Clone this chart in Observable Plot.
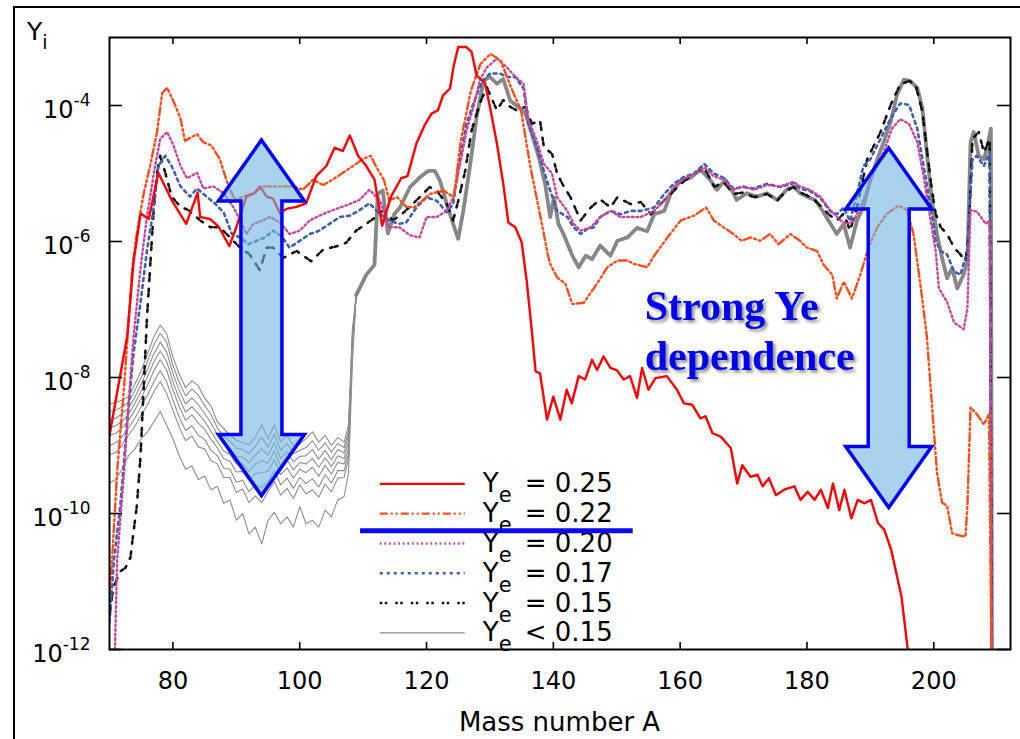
<!DOCTYPE html>
<html><head><meta charset="utf-8">
<script src="https://cdn.jsdelivr.net/npm/d3@7"></script>
<script src="https://cdn.jsdelivr.net/npm/@observablehq/plot@0.6"></script>
<style>
body{margin:0;background:#fff;}
#chart{position:relative;width:1020px;height:739px;overflow:hidden;background:#fff}
</style>
</head><body><div id="chart"></div>
<script>
// ---------- tick values ----------
const xTicks = [80, 100, 120, 140, 160, 180, 200];
const yTicks = [1e-12, 1e-10, 1e-8, 1e-6, 1e-4];

// ---------- series: [mass number A, log10 Y] ----------
const ye025 = [[70,-8.85],[72.8,-7.39],[73.8,-6.29],[74.9,-5.59],[76.2,-5.67],[77.7,-4.99],[79.8,-5.39],[82.1,-5.74],[83.9,-5.28],[84.3,-5.64],[85.9,-5.67],[87.2,-5.78],[88.9,-6.07],[90,-5.79],[91.6,-5.34],[92.9,-5.29],[93.7,-5.19],[94.8,-5.34],[95.8,-5.37],[96.9,-5.59],[97.9,-5.52],[99.5,-5.49],[101,-5.44],[102.6,-5.04],[104.2,-4.89],[105.5,-4.62],[106.8,-4.67],[107.9,-4.44],[109.2,-4.74],[110.5,-4.89],[111.8,-5.09],[113,-5.77],[114.4,-5.34],[116,-5.07],[117,-5.04],[118.4,-4.56],[119.7,-4.29],[120.8,-4.12],[121.8,-4.07],[122.6,-3.85],[123.7,-3.75],[124.3,-3.41],[125,-3.14],[126.3,-3.14],[127.1,-3.21],[127.9,-3.56],[129.2,-3.66],[130,-4.02],[131.1,-4.56],[132.1,-5.15],[132.9,-5.72],[134,-5.79],[135,-6.01],[135.8,-6.58],[136.6,-7.31],[137.2,-7.91],[137.9,-7.94],[139,-8.62],[140,-8.28],[141.1,-8.62],[142.1,-8.18],[142.9,-8.38],[144,-7.98],[145,-8.03],[146.1,-7.74],[146.9,-7.89],[147.9,-7.69],[149,-7.86],[150,-7.89],[151.1,-8.03],[152.1,-7.98],[153.2,-8.3],[154,-7.86],[155,-8.18],[156.1,-8.01],[157.9,-7.98],[159.5,-8.18],[160.6,-8.38],[161.9,-8.4],[163.2,-8.6],[164,-8.57],[165.1,-8.82],[166.4,-8.87],[168,-9.04],[169,-9.56],[169.8,-9.29],[171.1,-9.46],[172.2,-9.43],[173,-9.6],[174,-9.48],[175.1,-9.73],[176.4,-9.65],[178,-9.6],[179,-9.8],[180.1,-9.68],[181.2,-9.8],[182.2,-9.65],[183.3,-9.92],[184.1,-9.56],[185.1,-9.95],[185.9,-9.65],[187,-10.07],[188,-9.8],[189.1,-9.85],[190.1,-9.8],[191.2,-10.14],[192.2,-10.24],[193.3,-10.54],[194.9,-11.22],[195.9,-12],[196.3,-12.5]];

const ye022 = [[70,-11.2],[70.4,-10.69],[71.2,-9.39],[72.3,-8.14],[73.6,-6.39],[74.3,-5.89],[75.4,-5.29],[76.4,-4.89],[77.5,-4.39],[78.3,-3.82],[79.1,-3.74],[80.1,-3.94],[81.2,-4.19],[81.9,-4.52],[83.8,-4.42],[84.8,-4.54],[86.1,-4.59],[87.4,-4.79],[88.7,-5.17],[89.8,-5.39],[91.1,-5.34],[92.7,-5.29],[94.2,-5.19],[95.8,-5.19],[97.4,-5.19],[99,-5.19],[100.5,-5.24],[102.1,-5.09],[103.7,-5.17],[105.2,-5.09],[106.8,-4.99],[108.4,-4.89],[109.9,-4.79],[111.2,-4.74],[112,-4.89],[113.3,-5.1],[114.1,-5.39],[115.4,-5.35],[116.8,-5.49],[118,-5.5],[120.6,-5.3],[122.7,-5.25],[124.3,-5.35],[125.4,-4.52],[127,-3.78],[128.5,-3.39],[130.1,-3.24],[131.7,-3.34],[133.3,-3.73],[134.9,-4.07],[136.4,-4.91],[138,-5.65],[139.1,-6.18],[139.5,-6.33],[140.6,-6.53],[141.9,-6.62],[143,-6.92],[144.8,-6.9],[146.9,-6.62],[148.5,-6.38],[150.1,-6.28],[151.7,-6.28],[152.7,-6.33],[154.8,-6.38],[155.9,-6.21],[158,-5.94],[160.1,-5.69],[162.2,-5.62],[164.1,-5.5],[165.3,-5.69],[166.8,-5.79],[168.4,-5.89],[169.7,-5.99],[171.1,-5.94],[172.6,-5.99],[174.2,-5.89],[175.5,-6.04],[177.4,-5.89],[178.9,-5.99],[180,-6.09],[181.6,-6.14],[182.6,-6.34],[184,-6.49],[184.7,-6.84],[185.8,-6.59],[187.1,-6.84],[188.4,-6.49],[189.7,-6.09],[191.1,-5.79],[192.6,-5.59],[194.5,-5.47],[195.8,-5.54],[196.8,-5.89],[197.9,-6.64],[198.9,-7.39],[199.7,-8.39],[200.5,-9.39],[201.3,-9.84],[202.1,-9.89],[202.9,-10.29],[203.9,-10.32],[205,-10.34],[205.3,-9.89],[205.8,-8.44],[206.8,-8.54],[207.9,-8.69],[208.7,-8.54],[209.2,-13]];

const ye020 = [[70.8,-12.2],[71.2,-10.69],[72.3,-9.39],[73,-8.39],[73.8,-7.39],[74.9,-6.39],[75.9,-5.64],[77,-4.99],[78,-4.49],[79.1,-4.39],[80.1,-4.59],[81.2,-4.89],[82.2,-5.07],[83.8,-4.99],[84.8,-5.22],[86.4,-5.19],[88,-5.29],[89.5,-5.49],[90.6,-5.69],[91.6,-5.89],[92.7,-5.74],[94.2,-5.69],[95.3,-5.64],[96.9,-5.72],[98.4,-5.89],[100,-5.84],[101.6,-5.69],[103.1,-5.62],[105.2,-5.54],[107.3,-5.47],[109.4,-5.39],[111,-5.24],[112.6,-5.39],[114.1,-5.79],[115.7,-5.79],[117.4,-5.91],[118.9,-5.94],[120,-5.64],[121.6,-5.64],[123.2,-5.55],[124.2,-5.35],[125.3,-4.86],[126.3,-4.37],[127.4,-4.02],[128.4,-3.63],[129.5,-3.44],[131.1,-3.31],[132.7,-3.44],[134,-3.58],[135.3,-3.68],[136.1,-4.22],[137.4,-4.52],[138.5,-4.86],[139.8,-5.0],[140.6,-5.35],[142.2,-5.55],[143.2,-5.74],[144.3,-5.84],[145.9,-5.79],[147.4,-5.64],[149,-5.55],[150.6,-5.64],[152.2,-5.64],[153.8,-5.64],[155.9,-5.55],[157.5,-5.4],[159,-5.2],[160.6,-5.08],[162.2,-5.0],[163.8,-4.91],[165.3,-5.04],[166.8,-5.09],[168.4,-5.24],[170,-5.19],[171.6,-5.24],[173.7,-5.17],[175.8,-5.19],[177.9,-5.12],[178.9,-5.19],[180.5,-5.24],[182.1,-5.34],[183.7,-5.54],[185.3,-5.69],[186.3,-5.74],[187.4,-5.69],[188.9,-5.39],[190.5,-4.99],[192.1,-4.69],[193.4,-4.34],[194.7,-4.2],[196.1,-4.27],[197.4,-4.54],[198.4,-5.04],[199.5,-5.69],[200.3,-6.14],[200.8,-6.69],[202.1,-6.89],[203.2,-7.19],[204.7,-7.29],[205.3,-6.99],[205.8,-5.54],[206.8,-5.56],[208.2,-5.74],[208.8,-5.69],[209.2,-13]];

const ye017 = [[70,-11.6],[70.7,-10.69],[71.7,-9.89],[72.8,-8.64],[73.8,-7.64],[74.9,-6.89],[75.9,-6.14],[77,-5.49],[77.7,-4.89],[78.8,-4.74],[79.8,-4.89],[81.2,-5.19],[82.7,-5.34],[83.8,-5.22],[85.3,-5.34],[86.6,-5.44],[88,-5.57],[89.3,-5.89],[90.6,-5.94],[91.9,-6.04],[93.2,-5.99],[94.5,-5.94],[95.8,-5.84],[97.1,-5.92],[98.4,-6.09],[100,-5.99],[101.6,-5.89],[103.1,-5.84],[104.7,-5.74],[106.3,-5.64],[107.9,-5.62],[109.4,-5.54],[111,-5.44],[112.6,-5.59],[114.1,-5.69],[115.7,-5.74],[116.8,-5.72],[118.4,-5.5],[120,-5.35],[121.6,-5.4],[123.2,-5.57],[124.2,-5.45],[125.3,-4.76],[126.3,-4.27],[127.4,-3.97],[128.7,-3.66],[130,-3.53],[131.6,-3.53],[132.7,-3.58],[134,-3.58],[135.3,-3.75],[136.1,-4.27],[137.4,-4.61],[138.5,-4.96],[139.5,-5.25],[140.6,-5.55],[142.2,-5.64],[143.2,-5.79],[144.3,-5.89],[145.3,-5.82],[146.4,-5.79],[147.4,-5.64],[149,-5.55],[150.6,-5.6],[152.2,-5.55],[153.8,-5.55],[155.9,-5.5],[157.5,-5.3],[159,-5.15],[160.6,-5.05],[162.2,-5.0],[163.8,-4.86],[165.3,-5.0],[166.8,-5.06],[168.4,-5.22],[170,-5.2],[171.6,-5.22],[173.7,-5.15],[175.8,-5.2],[177.9,-5.14],[178.9,-5.22],[180.5,-5.26],[182.1,-5.36],[183.7,-5.56],[184.7,-5.6],[185.8,-5.5],[186.8,-5.7],[187.9,-5.3],[188.9,-4.89],[190,-4.79],[191.6,-4.49],[193.2,-4.19],[194.7,-3.97],[196.1,-3.99],[197.4,-4.34],[198.4,-4.89],[199.5,-5.49],[200.3,-5.99],[201.1,-6.14],[202.1,-6.19],[203.2,-6.44],[204.2,-6.49],[205.3,-6.14],[206.1,-4.79],[206.8,-4.74],[207.9,-4.89],[208.8,-4.69],[209.2,-13]];

const ye015 = [[70,-11.5],[70.6,-11.09],[71.7,-10.85],[72.5,-10.8],[73.3,-10.65],[73.8,-10.26],[74.3,-9.9],[74.9,-9.14],[75.4,-8.14],[75.9,-7.14],[76.4,-6.39],[77,-5.49],[77.5,-4.99],[78,-4.74],[78.8,-4.99],[79.8,-5.34],[81.2,-5.49],[82.5,-5.54],[84.3,-5.69],[85.9,-5.79],[87.4,-5.79],[89,-5.94],[90.6,-6.09],[92.1,-6.19],[93.7,-6.42],[94.8,-6.09],[95.8,-6.09],[97.4,-6.24],[99.5,-6.14],[101.8,-6.29],[103.7,-6.12],[105.8,-6.07],[107.3,-6.02],[108.9,-5.84],[110.5,-5.74],[112,-5.64],[113.1,-5.54],[114.7,-5.69],[116.2,-5.59],[117.8,-5.45],[118.9,-5.35],[120.5,-5.2],[121.6,-5.25],[123.2,-5.45],[124.2,-5.69],[125,-5.4],[126.1,-4.96],[127.1,-4.37],[128.4,-3.97],[129.5,-3.73],[131.1,-4.07],[132.1,-3.92],[133.2,-4.02],[134.2,-4.07],[135.6,-4.02],[136.6,-4.27],[137.9,-4.22],[138.5,-4.61],[139.8,-4.71],[140.6,-5.0],[141.4,-5.15],[142.7,-5.35],[144.3,-5.69],[145.9,-5.5],[147.4,-5.38],[149,-5.5],[150.1,-5.35],[152.2,-5.45],[153.8,-5.42],[155.4,-5.6],[156.9,-5.45],[158.5,-5.3],[160.1,-5.15],[162.2,-5.0],[163.8,-4.91],[165.4,-5.2],[166.8,-5.12],[168.4,-5.3],[170,-5.28],[171.6,-5.35],[173.7,-5.3],[175.3,-5.4],[176.8,-5.25],[177.9,-5.2],[178.9,-5.28],[180,-5.32],[181.3,-5.4],[182.4,-5.5],[183.4,-5.6],[184.7,-5.69],[185.8,-5.59],[186.8,-5.84],[187.9,-5.49],[189.5,-4.79],[191.6,-4.39],[193.2,-3.99],[194.7,-3.69],[196.1,-3.64],[197.1,-3.69],[198.2,-4.09],[198.9,-4.64],[199.7,-5.24],[200.3,-5.59],[201.1,-5.79],[202.1,-5.89],[203.2,-6.09],[204.2,-6.19],[205,-6.29],[205.5,-5.89],[206.1,-4.49],[207.1,-4.39],[207.9,-4.69],[208.8,-4.49],[209.2,-13]];

// Ye < 0.15: several runs that fan out below A ~ 108 and merge above it
const greyLowA = [70,71,72,73,74,75,76,77,78,79,80,81,82,83,84,85,86,87,88,89,90,91,92,93,94,95,96,97,98,99,100,101,102,103,104,105,106,107,107.7,108.3,108.9];
const greyLow1 = [-8.39,-8.37,-8.33,-8.28,-8.10,-7.90,-7.65,-7.40,-7.23,-7.35,-7.70,-7.95,-8.15,-8.05,-8.12,-8.30,-8.42,-8.65,-8.75,-8.85,-8.92,-8.96,-8.99,-8.88,-8.70,-8.90,-8.70,-8.95,-8.85,-9.00,-8.98,-8.90,-8.80,-8.95,-8.85,-9.00,-8.88,-8.95,-8.70,-7.30,-6.79];
const greyLow2 = [-8.50,-8.48,-8.43,-8.36,-8.19,-8.00,-7.76,-7.52,-7.35,-7.48,-7.82,-8.07,-8.27,-8.17,-8.26,-8.41,-8.54,-8.74,-8.86,-8.94,-9.04,-9.06,-9.12,-9.01,-8.88,-9.02,-8.83,-9.07,-8.97,-9.12,-9.07,-9.03,-8.93,-9.07,-8.96,-9.10,-8.97,-9.03,-8.78,-7.38,-6.79];
const greyLow3 = [-8.62,-8.60,-8.53,-8.45,-8.29,-8.10,-7.88,-7.65,-7.48,-7.62,-7.94,-8.19,-8.39,-8.30,-8.40,-8.53,-8.67,-8.84,-8.97,-9.04,-9.16,-9.17,-9.25,-9.14,-9.05,-9.14,-8.96,-9.19,-9.09,-9.24,-9.16,-9.15,-9.06,-9.20,-9.07,-9.21,-9.06,-9.11,-8.85,-7.45,-6.79];
const greyLow4 = [-8.74,-8.71,-8.64,-8.54,-8.38,-8.20,-7.99,-7.77,-7.61,-7.76,-8.06,-8.31,-8.51,-8.43,-8.53,-8.64,-8.79,-8.94,-9.08,-9.13,-9.27,-9.27,-9.38,-9.27,-9.22,-9.26,-9.08,-9.31,-9.21,-9.36,-9.25,-9.27,-9.19,-9.32,-9.18,-9.31,-9.15,-9.19,-8.95,-7.50,-6.79];
const greyLow5 = [-8.85,-8.82,-8.74,-8.63,-8.48,-8.30,-8.11,-7.90,-7.74,-7.89,-8.18,-8.43,-8.63,-8.55,-8.67,-8.76,-8.91,-9.03,-9.19,-9.23,-9.39,-9.38,-9.51,-9.41,-9.40,-9.38,-9.21,-9.43,-9.33,-9.48,-9.35,-9.40,-9.32,-9.45,-9.29,-9.42,-9.25,-9.27,-9.05,-7.55,-6.79];
const greyLow6 = [-9.00,-8.96,-8.87,-8.74,-8.60,-8.43,-8.26,-8.06,-7.90,-8.06,-8.33,-8.58,-8.78,-8.71,-8.85,-8.91,-9.07,-9.15,-9.33,-9.35,-9.54,-9.51,-9.68,-9.58,-9.62,-9.53,-9.37,-9.58,-9.48,-9.63,-9.47,-9.56,-9.49,-9.61,-9.43,-9.55,-9.37,-9.37,-9.12,-7.60,-6.79];
const greyLow7 = [-9.14,-9.10,-8.99,-8.85,-8.72,-8.55,-8.40,-8.21,-8.06,-8.23,-8.48,-8.73,-8.93,-8.86,-9.02,-9.05,-9.22,-9.27,-9.47,-9.47,-9.69,-9.64,-9.84,-9.74,-9.84,-9.68,-9.53,-9.73,-9.63,-9.78,-9.58,-9.71,-9.65,-9.76,-9.57,-9.68,-9.48,-9.47,-9.20,-7.65,-6.79];
const greyLow8 = [-9.55,-9.50,-9.35,-9.15,-9.05,-8.90,-8.80,-8.65,-8.50,-8.70,-8.90,-9.15,-9.35,-9.30,-9.50,-9.45,-9.65,-9.60,-9.85,-9.80,-10.10,-10.00,-10.30,-10.20,-10.45,-10.10,-9.98,-10.15,-10.05,-10.20,-9.90,-10.15,-10.10,-10.20,-9.95,-10.05,-9.80,-9.75,-9.40,-7.80,-6.79];
const greyHigh = [[108.9,-6.79],[110.5,-6.49],[111.8,-6.34],[112.3,-5.3],[113.1,-5.25],[113.9,-5.88],[114.9,-5.6],[115.8,-5.5],[117.4,-5.2],[118.9,-5.06],[120.3,-4.96],[121.3,-4.96],[122.1,-5.1],[123.2,-5.45],[124.2,-5.74],[125,-5.96],[125.8,-5.55],[126.9,-4.86],[127.9,-4.17],[129,-3.63],[130,-3.58],[131.1,-3.68],[132.1,-3.61],[133.2,-3.93],[134.5,-4.02],[135.6,-4.12],[136.6,-4.42],[137.7,-4.76],[138.7,-5.15],[139.5,-5.64],[140.1,-5.35],[140.8,-5.74],[141.6,-5.89],[143,-6.21],[144,-6.38],[145.1,-6.21],[146.1,-6.26],[147.4,-6.06],[149,-6.21],[150.1,-5.99],[151.7,-5.94],[153.2,-5.8],[154.8,-5.85],[155.9,-5.6],[157.5,-5.55],[158.5,-5.3],[160.1,-5.1],[161.7,-5.06],[163.2,-4.94],[164.7,-5.09],[165.8,-5.24],[167.1,-5.09],[168.4,-5.29],[168.9,-5.39],[170.5,-5.29],[172.1,-5.34],[173.7,-5.29],[175.3,-5.39],[176.8,-5.24],[177.9,-5.19],[178.9,-5.29],[180,-5.34],[181.3,-5.39],[182.4,-5.54],[183.4,-5.69],[184.7,-5.89],[185.8,-5.74],[186.8,-6.09],[187.9,-5.69],[188.9,-5.49],[190,-5.09],[191.1,-4.79],[192.1,-4.54],[193.2,-4.24],[194.2,-3.84],[195.3,-3.62],[196.3,-3.64],[197.4,-3.74],[198.2,-4.04],[198.9,-4.69],[199.7,-5.39],[200.5,-5.89],[201.3,-6.24],[202.1,-6.54],[202.9,-6.39],[203.7,-6.69],[204.7,-6.49],[205.3,-6.29],[205.8,-4.54],[206.3,-4.39],[207.1,-4.74],[207.9,-4.79],[208.5,-4.59],[209,-4.34],[209.2,-13]];

// ---------- legend ----------
const legendLabels = ["= 0.25", "= 0.22", "= 0.20", "= 0.17", "= 0.15", "< 0.15"];

// ---------- build table ----------
const pts = (arr, s) => arr.map(([a, e]) => ({A: a, Y: Math.pow(10, e), s}));
const greyRuns = [greyLow1, greyLow2, greyLow3, greyLow4, greyLow5, greyLow6, greyLow7, greyLow8].map((vals, i) =>
  greyLowA.map((a, j) => ({A: a, Y: Math.pow(10, vals[j]), s: "g" + i})));

const styles = {
  r: {stroke: "#ff0000", strokeWidth: 2.4},
  o: {stroke: "#ff4e18", strokeWidth: 2.4, strokeDasharray: "8,3,2,3,2,3"},
  m: {stroke: "#c8479d", strokeWidth: 2.4, strokeDasharray: "1.8,2.8"},
  b: {stroke: "#3d5fae", strokeWidth: 2.6, strokeDasharray: "3,4"},
  k: {stroke: "#111111", strokeWidth: 2.6, strokeDasharray: "2.5,2.5,2.5,8"},
  g: {stroke: "#8d8d8d", strokeWidth: 1.1}
};

const W = 1020, H = 739, mL = 109, mR = 10, mT = 37, mB = 90;
const innerW = W - mL - mR, innerH = H - mT - mB;

const lineOpts = (st) => ({x: "A", y: "Y", z: "s", clip: true, ...st});

const plot = Plot.plot({
  width: W, height: H,
  marginLeft: mL, marginRight: mR, marginTop: mT, marginBottom: mB,
  x: {domain: [70, 212.1]},
  y: {type: "log", domain: [1e-12, 1e-3]},
  style: {fontFamily: "DejaVu Sans, sans-serif", fontSize: "24px", color: "black", background: "white", overflow: "visible"},
  marks: [
    ...greyRuns.map(run => Plot.line(run, lineOpts(styles.g))),
    Plot.line(pts(greyHigh, "gh"), lineOpts({stroke: "#878787", strokeWidth: 3.8})),
    Plot.line(pts(ye015, "k"), lineOpts(styles.k)),
    Plot.line(pts(ye017, "b"), lineOpts(styles.b)),
    Plot.line(pts(ye020, "m"), lineOpts(styles.m)),
    Plot.line(pts(ye022, "o"), lineOpts(styles.o)),
    Plot.line(pts(ye025, "r"), lineOpts(styles.r)),
    Plot.tickY(yTicks, {y: d => d, insetRight: innerW - 13, stroke: "black", strokeWidth: 1.6}),
    Plot.tickY(yTicks, {y: d => d, insetLeft: innerW - 13, stroke: "black", strokeWidth: 1.6}),
    Plot.tickX(xTicks, {x: d => d, insetTop: innerH - 7, stroke: "black", strokeWidth: 1.6}),
    Plot.tickX(xTicks, {x: d => d, insetBottom: innerH - 7, stroke: "black", strokeWidth: 1.6}),
    Plot.axisX({ticks: xTicks, tickSize: 0, tickPadding: 22, label: null, tickFormat: d => String(d)}),
    Plot.axisY({ticks: yTicks, tickSize: 0, tickPadding: 19, label: null, dy: 5,
      tickFormat: d => "10^" + Math.round(Math.log10(d))}),
    Plot.frame({stroke: "black", strokeWidth: 2})
  ]
});
document.getElementById("chart").appendChild(plot);

// ---------- post-processing / annotations ----------
const svg = d3.select(plot);
const sx = plot.scale("x"), sy = plot.scale("y");
const X = v => sx.apply(v), Y = v => sy.apply(v);

// superscript exponents on y tick labels
svg.selectAll('[aria-label="y-axis tick label"] text').each(function() {
  const t = d3.select(this);
  const parts = t.text().split("^");
  t.text(parts[0]);
  t.append("tspan").attr("dy", -12).attr("font-size", 17).text(parts[1]);
});

const ann = svg.append("g").attr("class", "annotations").attr("text-anchor", "start");

// outer figure frame
ann.append("path").attr("d", `M14,${H + 5}V7H${W + 5}`).attr("fill", "none")
  .attr("stroke", "black").attr("stroke-width", 2);

// axis titles
ann.append("text").attr("x", (mL + W - mR) / 2).attr("y", 731).attr("text-anchor", "middle")
  .attr("font-family", "DejaVu Sans, sans-serif").attr("font-size", 26).text("Mass number A");
const yl = ann.append("text").attr("x", 27).attr("y", 40).attr("text-anchor", "start")
  .attr("font-family", "DejaVu Sans, sans-serif").attr("font-size", 25).text("Y");
yl.append("tspan").attr("dy", 9).attr("font-size", 19).text("i");

// double arrows (anchored in data space)
const arrowDefs = [
  {A: 94.04, top: -4.515, bottom: -9.744},
  {A: 192.97, top: -4.633, bottom: -9.92}
];
const hw = 43, hl = 61, sw = 20.5;
arrowDefs.forEach(a => {
  const cx = X(a.A), yt = Y(Math.pow(10, a.top)), yb = Y(Math.pow(10, a.bottom));
  const d = `M${cx},${yt}L${cx + hw},${yt + hl}L${cx + sw},${yt + hl}L${cx + sw},${yb - hl}L${cx + hw},${yb - hl}L${cx},${yb}L${cx - hw},${yb - hl}L${cx - sw},${yb - hl}L${cx - sw},${yt + hl}L${cx - hw},${yt + hl}Z`;
  ann.append("path").attr("d", d).attr("fill", "#6fb5e0").attr("fill-opacity", 0.6)
    .attr("stroke", "#0000ff").attr("stroke-width", 3.5).attr("stroke-linejoin", "miter");
});

// legend
const lgA = 112.7, lgTop = -9.571, lgRow = 29.8;
const lx0 = X(lgA), ly0 = Y(Math.pow(10, lgTop));
const lgStyles = [styles.r, styles.o, styles.m, styles.b, styles.k, {stroke: "#8a8a8a", strokeWidth: 1.3}];
legendLabels.forEach((lab, i) => {
  const yy = ly0 + i * lgRow, st = lgStyles[i];
  ann.append("line").attr("x1", lx0).attr("x2", lx0 + 85).attr("y1", yy).attr("y2", yy)
    .attr("stroke", st.stroke).attr("stroke-width", st.strokeWidth)
    .attr("stroke-dasharray", st.strokeDasharray || null);
  const t = ann.append("text").attr("x", lx0 + 103).attr("y", yy + 8.5).attr("text-anchor", "start")
    .attr("font-family", "DejaVu Sans, sans-serif").attr("font-size", 26).text("Y");
  t.append("tspan").attr("dy", 10).attr("font-size", 21).text("e");
  t.append("tspan").attr("x", lx0 + 145).attr("dy", -10).text(lab);
});

// thick blue bar across the legend
ann.append("line").attr("x1", X(109.6)).attr("x2", X(152.6))
  .attr("y1", Y(Math.pow(10, -10.26))).attr("y2", Y(Math.pow(10, -10.26)))
  .attr("stroke", "#0a0aee").attr("stroke-width", 5);

// "Strong Ye dependence" label with drop shadow
const defs = svg.append("defs");
const f = defs.append("filter").attr("id", "shadow").attr("x", "-10%").attr("y", "-20%").attr("width", "130%").attr("height", "150%");
f.append("feDropShadow").attr("dx", 2.5).attr("dy", 2.5).attr("stdDeviation", 1.5)
  .attr("flood-color", "#000").attr("flood-opacity", 0.45);
const tx = X(154.5);
[["Strong Ye", -7.166], ["dependence", -7.903]].forEach(([s, e]) => {
  ann.append("text").attr("x", tx).attr("y", Y(Math.pow(10, e))).attr("text-anchor", "start")
    .attr("font-family", "Liberation Serif, Times New Roman, serif").attr("font-weight", "bold")
    .attr("font-size", 42).attr("fill", "#0000ee").attr("filter", "url(#shadow)").text(s);
});
</script></body></html>
